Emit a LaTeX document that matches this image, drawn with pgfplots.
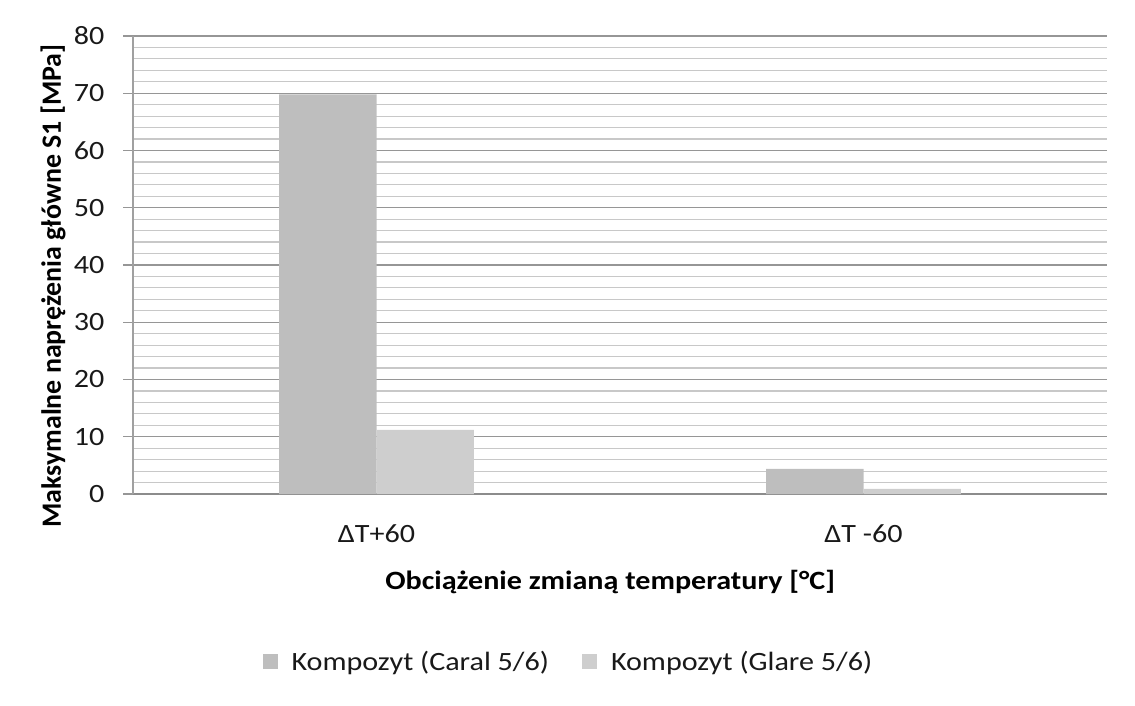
\documentclass[border=0pt]{standalone}
\usepackage{pgfplots}
\pgfplotsset{compat=1.18}
\usepackage{fontspec}
\setmainfont[FakeStretch=1.14]{Carlito}
\newfontfamily\plainfont{Carlito}
\definecolor{caral}{RGB}{190,190,190}
\definecolor{glare}{RGB}{206,206,206}
\definecolor{minorgrid}{RGB}{200,200,200}
\definecolor{majorgrid}{RGB}{150,150,150}
\definecolor{txt}{RGB}{25,25,25}
\newcommand\fs{\fontsize{26.5}{32}\selectfont}
\begin{document}
\begin{tikzpicture}
\useasboundingbox (-133bp,-212bp) rectangle (1002bp,494bp);
\begin{axis}[
 scale only axis, width=974bp, height=458bp,
 xmin=-0.5, xmax=1.5, ymin=0, ymax=80,
 xtick={0,1}, xticklabels={ΔT+60, ΔT -60},
 ytick={0,10,...,80}, minor y tick num=4,
 /pgf/number format/assume math mode=true,
 ymajorgrids, yminorgrids,
 major grid style={majorgrid, line width=1.3bp},
 minor grid style={minorgrid, line width=1.2bp},
 axis x line*=bottom, axis y line*=left,
 x axis line style={draw={rgb,255:red,140;green,140;blue,140}, line width=1.6bp},
 y axis line style={draw={rgb,255:red,160;green,160;blue,160}, line width=1.3bp},
 tick align=outside, major tick length=10bp, minor tick length=0pt,
 ytick style={draw={rgb,255:red,150;green,150;blue,150}, line width=1.3bp},
 xtick style={draw=none},
 tick label style={font=\fs, text=txt},
 yticklabel style={xshift=-15bp},
 xticklabel style={yshift=-17bp},
 ybar=0pt, bar width=0.2,
 xlabel={\textbf{Obciążenie zmianą temperatury [°C]}},
 ylabel={\textbf{Maksymalne naprężenia główne S1 [MPa]}},
 xlabel style={font=\fs, text=black, at={(axis description cs:0.49,-0.192)}, anchor=center},
 ylabel style={font=\plainfont\fontsize{28}{34}\selectfont, text=black, at={(axis description cs:-0.082,0.454)}, anchor=center, rotate=0},
 legend style={at={(axis description cs:0.447,-0.365)}, anchor=center, draw=none,
   font=\fs, text=txt, legend columns=2,
   /tikz/every even column/.append style={column sep=31bp}},
 legend image code/.code={\fill[#1] (0bp,-8bp) rectangle (15bp,7bp); \path (27bp,0bp);},
]
\addplot[fill=caral, draw=none] coordinates {(0,69.8) (1,4.4)};
\addplot[fill=glare, draw=none] coordinates {(0,11.2) (1,0.9)};
\legend{Kompozyt (Caral 5/6), Kompozyt (Glare 5/6)}
\end{axis}
\end{tikzpicture}
\end{document}
